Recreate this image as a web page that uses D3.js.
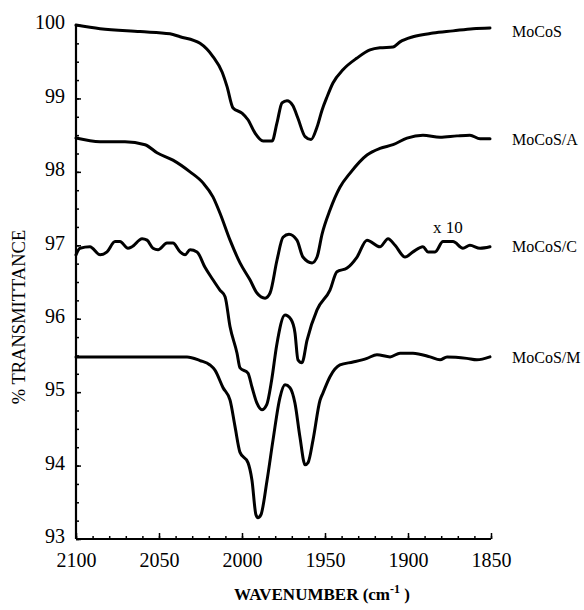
<!DOCTYPE html>
<html>
<head>
<meta charset="utf-8">
<script src="https://cdn.jsdelivr.net/npm/d3@7"></script>
<style>
  html, body { margin: 0; padding: 0; background: #fff; }
  svg { display: block; }
</style>
</head>
<body>
<svg id="chart" width="584" height="610"></svg>
<script>
// ---- data (wavenumber, cm^-1 ; % transmittance) ----
const xTicks = [2100, 2050, 2000, 1950, 1900, 1850];
const yTicks = [93, 94, 95, 96, 97, 98, 99, 100];

const mocosWn = [2100, 2085.5, 2061.4, 2043.4, 2037.3, 2025.3, 2017.5, 2012.0, 2009.0, 2005.4, 2000.0, 1996.4, 1992.2, 1987.3, 1981.9, 1978.9, 1975.9, 1972.9, 1969.3, 1966.3, 1962.0, 1958.4, 1954.8, 1951.8, 1948.8, 1945.2, 1939.2, 1930.7, 1922.9, 1916.9, 1909.0, 1904.8, 1897.0, 1884.9, 1872.9, 1860.8, 1850.6];
const mocosT  = [100.0, 99.95, 99.91, 99.88, 99.84, 99.75, 99.57, 99.36, 99.16, 98.87, 98.80, 98.71, 98.53, 98.42, 98.42, 98.67, 98.94, 98.97, 98.90, 98.73, 98.48, 98.44, 98.61, 98.84, 99.02, 99.21, 99.39, 99.55, 99.66, 99.69, 99.70, 99.77, 99.84, 99.89, 99.92, 99.95, 99.96];

const mocosAWn = [2100, 2085.5, 2070.5, 2058.4, 2051.2, 2041.6, 2031.3, 2023.5, 2017.5, 2013.3, 2007.2, 2001.2, 1995.2, 1991.0, 1986.1, 1983.1, 1978.9, 1975.3, 1971.7, 1966.9, 1963.3, 1957.8, 1954.8, 1951.8, 1947.0, 1941.0, 1935.0, 1924.7, 1916.9, 1909.0, 1900.6, 1891.0, 1880.7, 1870.5, 1862.7, 1856.6, 1850.6];
const mocosAT  = [98.46, 98.41, 98.41, 98.37, 98.26, 98.16, 98.00, 97.85, 97.66, 97.44, 97.07, 96.76, 96.53, 96.35, 96.28, 96.35, 96.80, 97.11, 97.15, 97.07, 96.84, 96.76, 96.84, 97.15, 97.48, 97.79, 97.98, 98.23, 98.32, 98.37, 98.46, 98.50, 98.47, 98.49, 98.50, 98.45, 98.45];

const mocosCWn = [2100, 2097.6, 2091.6, 2085.5, 2081.3, 2076.5, 2073.5, 2068.7, 2066.3, 2060.2, 2057.2, 2053.6, 2050.6, 2045.2, 2041.6, 2037.3, 2034.3, 2031.3, 2027.1, 2022.3, 2017.5, 2013.3, 2010.2, 2007.2, 2003.0, 2001.2, 1996.4, 1994.0, 1991.0, 1988.0, 1985.1, 1982.1, 1979.1, 1974.1, 1970.5, 1968.1, 1966.3, 1963.9, 1960.8, 1954.8, 1947.0, 1942.8, 1936.7, 1930.7, 1924.7, 1916.9, 1912.0, 1907.8, 1901.8, 1897.0, 1891.0, 1887.9, 1883.7, 1878.9, 1872.9, 1866.9, 1862.7, 1856.6, 1850.6];
const mocosCT  = [96.87, 96.96, 96.98, 96.87, 96.91, 97.05, 97.05, 96.96, 96.98, 97.09, 97.07, 96.96, 96.94, 97.03, 97.03, 96.91, 96.87, 96.94, 96.91, 96.70, 96.53, 96.39, 96.30, 95.89, 95.53, 95.33, 95.26, 95.07, 94.85, 94.76, 94.83, 95.17, 95.64, 96.05, 95.99, 95.81, 95.44, 95.40, 95.71, 96.12, 96.39, 96.64, 96.69, 96.84, 97.07, 96.98, 97.09, 97.00, 96.84, 96.91, 96.98, 96.91, 96.91, 97.05, 97.05, 96.96, 97.00, 96.96, 96.98];

const mocosMWn = [2100, 2033.1, 2025.3, 2019.3, 2016.3, 2011.4, 2007.2, 2004.2, 2001.2, 1996.4, 1994.0, 1991.6, 1990.4, 1988.6, 1984.9, 1981.3, 1977.1, 1974.1, 1971.1, 1968.1, 1965.1, 1962.0, 1960.2, 1957.2, 1953.0, 1951.2, 1947.0, 1941.0, 1933.1, 1924.7, 1918.7, 1910.8, 1904.8, 1897.0, 1886.7, 1880.7, 1876.5, 1864.6, 1858.5, 1850.6];
const mocosMT  = [95.48, 95.48, 95.43, 95.37, 95.30, 95.06, 94.89, 94.53, 94.18, 94.04, 93.80, 93.33, 93.29, 93.33, 93.80, 94.35, 94.93, 95.10, 95.06, 94.85, 94.39, 94.01, 94.04, 94.35, 94.89, 94.99, 95.21, 95.37, 95.41, 95.46, 95.51, 95.48, 95.53, 95.53, 95.48, 95.44, 95.48, 95.46, 95.44, 95.48];

const seriesNames = ["MoCoS", "MoCoS/A", "MoCoS/C", "MoCoS/M"];

// ---- layout ----
const svg = d3.select("#chart");
const x = d3.scaleLinear().domain([2100, 1850]).range([76, 491]);
const y = d3.scaleLinear().domain([93, 100]).range([539, 25]);
const font = "'Liberation Serif', 'Times New Roman', serif";

// minor ticks
const yMinor = d3.range(93, 100.001, 0.25);
const xMinor = d3.range(1850, 2100.001, 10);

const gy = svg.append("g").attr("transform", "translate(76,0)");
gy.call(d3.axisLeft(y).tickValues(yMinor).tickSize(-3).tickFormat(""))
  .call(g => g.select(".domain").remove());
gy.selectAll("line").attr("stroke", "#000").attr("stroke-width", 1.5);

const gyM = svg.append("g").attr("transform", "translate(76,0)");
gyM.call(d3.axisLeft(y).tickValues(yTicks).tickSize(-5).tickPadding(11).tickFormat(d3.format("d")))
  .call(g => g.select(".domain").remove());
gyM.selectAll("line").attr("stroke", "#000").attr("stroke-width", 1.5);
gyM.selectAll("text").attr("font-family", font).attr("font-size", 20).attr("fill", "#000").attr("dy", "0.19em");

const gx = svg.append("g").attr("transform", "translate(0,539)");
gx.call(d3.axisBottom(x).tickValues(xMinor).tickSize(-3).tickFormat(""))
  .call(g => g.select(".domain").remove());
gx.selectAll("line").attr("stroke", "#000").attr("stroke-width", 1.5);

const gxM = svg.append("g").attr("transform", "translate(0,539)");
gxM.call(d3.axisBottom(x).tickValues(xTicks).tickSize(-6).tickPadding(14).tickFormat(d3.format("d")))
  .call(g => g.select(".domain").remove());
gxM.selectAll("line").attr("stroke", "#000").attr("stroke-width", 1.5);
gxM.selectAll("text").attr("font-family", font).attr("font-size", 20).attr("fill", "#000");

// axis lines
svg.append("line").attr("x1", x(2100)).attr("x2", x(2100)).attr("y1", y(100)).attr("y2", y(93))
  .attr("stroke", "#000").attr("stroke-width", 2.2);
svg.append("line").attr("x1", x(2100)).attr("x2", x(1850)).attr("y1", y(93)).attr("y2", y(93))
  .attr("stroke", "#000").attr("stroke-width", 2.2);

// curves
const line = d3.line().x(d => x(d[0])).y(d => y(d[1])).curve(d3.curveMonotoneX);
const allSeries = [
  [mocosWn, mocosT],
  [mocosAWn, mocosAT],
  [mocosCWn, mocosCT],
  [mocosMWn, mocosMT]
];
allSeries.forEach(([wn, t]) => {
  svg.append("path")
    .attr("d", line(wn.map((w, i) => [w, t[i]])))
    .attr("fill", "none").attr("stroke", "#000").attr("stroke-width", 3)
    .attr("stroke-linejoin", "round").attr("stroke-linecap", "round");
});

// series labels
const labelPos = [[512, 37], [512, 145], [512, 252], [512, 363]];
seriesNames.forEach((n, i) => {
  svg.append("text").attr("x", labelPos[i][0]).attr("y", labelPos[i][1])
    .attr("font-family", font).attr("font-size", 16).attr("fill", "#000").text(n);
});
svg.append("text").attr("x", 433).attr("y", 233)
  .attr("font-family", font).attr("font-size", 17).attr("fill", "#000").text("x 10");

// axis titles
svg.append("text").attr("transform", "translate(25,317) rotate(-90)")
  .attr("text-anchor", "middle").attr("font-family", font).attr("font-size", 18.5).attr("fill", "#000")
  .text("% TRANSMITTANCE");

const xt = svg.append("text").attr("x", 322).attr("y", 600).attr("text-anchor", "middle")
  .attr("font-family", font).attr("font-size", 17).attr("font-weight", "bold").attr("fill", "#000");
xt.append("tspan").text("WAVENUMBER (cm");
xt.append("tspan").attr("dy", -7).attr("font-size", 12).text("-1");
xt.append("tspan").attr("dy", 7).text(" )");
</script>
</body>
</html>
